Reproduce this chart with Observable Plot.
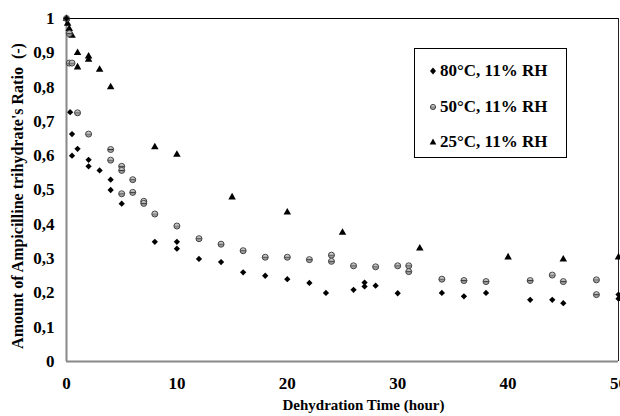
<!DOCTYPE html>
<html>
<head>
<meta charset="utf-8">
<script src="https://cdn.jsdelivr.net/npm/d3@7"></script>
<script src="https://cdn.jsdelivr.net/npm/@observablehq/plot@0.6"></script>
<style>
  html, body { margin: 0; padding: 0; background: #fff; }
  #wrap { position: relative; width: 620px; height: 416px; font-family: "Liberation Serif", "Times New Roman", serif; }
  #legend { position: absolute; left: 414px; top: 48px; width: 153px; height: 110px; border: 1px solid #000; background: #fff; box-sizing: border-box; }
  .row { position: absolute; left: 14px; display: flex; align-items: center; font-weight: bold; font-size: 17px; white-space: nowrap; }
  .row svg { margin-right: 3px; }
</style>
</head>
<body>
<div id="wrap"></div>
<script>
// ---- data ----
const xTicks = [0, 10, 20, 30, 40, 50];
const yTicks = [0, 0.1, 0.2, 0.3, 0.4, 0.5, 0.6, 0.7, 0.8, 0.9, 1];
const seriesNames = ["80°C, 11% RH", "50°C, 11% RH", "25°C, 11% RH"];

const t80 = [0, 0.33, 0.5, 0.5, 1, 2, 2, 3, 4, 4, 5, 8, 10, 10, 12, 14, 16, 18, 20, 22, 23.5, 26, 27, 27, 28, 30, 34, 36, 38, 42, 44, 45, 50, 50];
const v80 = [1.0, 0.727, 0.663, 0.60, 0.62, 0.588, 0.569, 0.557, 0.53, 0.50, 0.46, 0.349, 0.349, 0.329, 0.299, 0.29, 0.26, 0.25, 0.24, 0.229, 0.2, 0.209, 0.23, 0.219, 0.221, 0.199, 0.2, 0.19, 0.2, 0.18, 0.18, 0.17, 0.195, 0.183];

const t50 = [0, 0.25, 0.25, 0.5, 1, 2, 4, 4, 5, 5, 5, 6, 6, 7, 7, 8, 10, 12, 14, 16, 18, 20, 22, 24, 24, 26, 28, 30, 31, 31, 34, 36, 38, 42, 44, 45, 48, 48];
const v50 = [1.0, 0.956, 0.87, 0.87, 0.725, 0.663, 0.618, 0.587, 0.569, 0.557, 0.489, 0.53, 0.493, 0.467, 0.461, 0.43, 0.395, 0.358, 0.342, 0.323, 0.304, 0.304, 0.297, 0.31, 0.292, 0.279, 0.276, 0.279, 0.279, 0.262, 0.24, 0.236, 0.233, 0.236, 0.252, 0.233, 0.238, 0.195];

const t25 = [0, 0.1, 0.25, 0.5, 1, 1, 2, 2, 3, 4, 8, 10, 15, 20, 25, 32, 40, 45, 50];
const v25 = [1.0, 0.985, 0.97, 0.95, 0.90, 0.858, 0.89, 0.88, 0.851, 0.80, 0.625, 0.603, 0.479, 0.435, 0.376, 0.33, 0.304, 0.298, 0.304];

const xTitle = "Dehydration Time (hour)";
const yTitle = "Amount of Ampicilline trihydrate's Ratio  (-)";

// ---- build tables ----
const d80 = t80.map((t, i) => ({t, v: v80[i]}));
const d50 = t50.map((t, i) => ({t, v: v50[i]}));
const d25 = t25.map((t, i) => ({t, v: v25[i]}));

const fmtY = d => d === 0 ? "0" : d === 1 ? "1" : d.toFixed(1).replace(".", ",");

const chart = Plot.plot({
  width: 620,
  height: 416,
  marginLeft: 66,
  marginRight: 2,
  marginTop: 18,
  marginBottom: 55,
  style: { fontFamily: "'Liberation Serif', 'Times New Roman', serif", fontWeight: "bold", fontSize: "17px", background: "#fff", overflow: "visible" },
  x: { domain: [0, 50] },
  y: { domain: [0, 1] },
  marks: [
    Plot.ruleY([1], {stroke: "#000", strokeWidth: 1}),
    Plot.ruleX([50], {stroke: "#222", strokeWidth: 1}),
    Plot.ruleX([0], {stroke: "#888", strokeWidth: 2}),
    Plot.ruleY([0], {stroke: "#888", strokeWidth: 2}),
    Plot.axisX({ticks: xTicks, tickSize: 0, tickPadding: 15, label: null, tickFormat: d => String(d), fill: "#000"}),
    Plot.axisY({ticks: yTicks, tickSize: 0, tickPadding: 12, label: null, tickFormat: fmtY, fill: "#000"}),
    Plot.dot(d25, {x: "t", y: "v", symbol: "triangle", r: 2.8, fill: "#000", stroke: "none"}),
    Plot.dot(d50, {x: "t", y: "v", symbol: "circle", r: 3, fill: "url(#gc)", stroke: "#444", strokeWidth: 1}),
    Plot.dot(d80, {x: "t", y: "v", symbol: "square", rotate: 45, r: 2.5, fill: "#000", stroke: "none"}),
    Plot.text([xTitle], {frameAnchor: "bottom", dx: 21, dy: 48, fontSize: 15, fontWeight: "bold", fill: "#000"}),
    Plot.text([yTitle], {frameAnchor: "left", textAnchor: "middle", rotate: -90, dx: -49, dy: 6, fontSize: 16, fontWeight: "bold", fill: "#000"})
  ]
});

// gradient for the shaded circle markers
const gradDefs = `<linearGradient id="gc" x1="0" y1="0" x2="0" y2="1">
  <stop offset="0" stop-color="#eeeeee"/><stop offset="0.42" stop-color="#a8a8a8"/>
  <stop offset="0.5" stop-color="#333333"/><stop offset="0.58" stop-color="#8a8a8a"/>
  <stop offset="1" stop-color="#b5b5b5"/></linearGradient>`;
const defs = document.createElementNS("http://www.w3.org/2000/svg", "defs");
defs.innerHTML = gradDefs;
chart.insertBefore(defs, chart.firstChild);

const wrap = document.getElementById("wrap");
wrap.appendChild(chart);

// legend
const legend = document.createElement("div");
legend.id = "legend";
const markers = [
  `<svg width="8" height="10"><path d="M4,1.5L7,5L4,8.5L1,5Z" fill="#000"/></svg>`,
  `<svg width="8" height="10"><defs>${gradDefs.replace('id="gc"','id="gc2"')}</defs><circle cx="4" cy="5" r="2.6" fill="url(#gc2)" stroke="#444" stroke-width="1"/></svg>`,
  `<svg width="8" height="10"><path d="M4,1.5L7.3,7.5L0.7,7.5Z" fill="#000"/></svg>`
];
const rowTops = [23, 59, 94];
seriesNames.forEach((name, i) => {
  const r = document.createElement("div");
  r.className = "row";
  r.style.top = (rowTops[i] - 11) + "px";
  r.innerHTML = markers[i] + `<span>${name}</span>`;
  legend.appendChild(r);
});
wrap.appendChild(legend);
</script>
</body>
</html>
